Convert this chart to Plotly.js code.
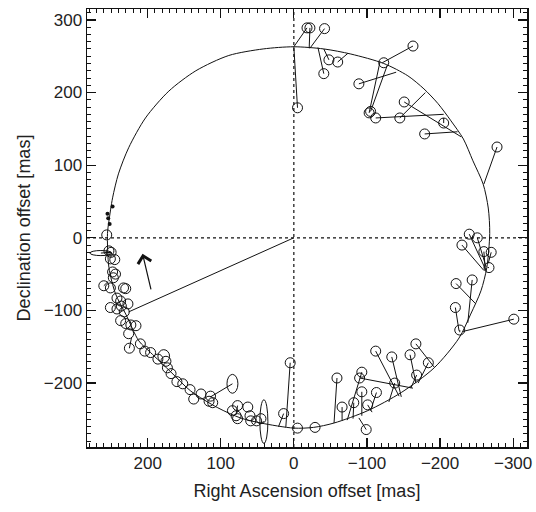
<!DOCTYPE html>
<html>
<head>
<meta charset="utf-8">
<script src="https://cdn.plot.ly/plotly-3.0.1.min.js"></script>
<style>html,body{margin:0;padding:0;background:#fff;}#chart{width:536px;height:512px;}</style>
</head>
<body>
<div id="chart"></div>
<script>
// Model orbit, RA offset / Dec offset in mas
var orbitRA  = [0, -41, -78, -123, -156, -178, -197, -215, -232, -245, -259, -266, -268, -264, -256, -242, -226, -192, -147, -101, -55, -27, 0, 45, 73, 104, 141, 168, 196, 212, 230, 244, 253, 255, 253, 248, 240, 226, 203, 171, 134, 89, 42, 0];
var orbitDec = [263, 260, 253, 240, 223, 205, 185, 161, 136, 106, 74, 41, 6, -41, -73, -105, -138, -179, -213, -238, -255, -261, -262, -255, -248, -234, -211, -185, -158, -142, -105, -77, -41, 6, 23, 55, 88, 124, 165, 202, 230, 251, 260, 263];

// Observed positions
var obsRA  = [-18, -22, -5, -42, -41, -48, -60, -163, -123, -103, -105, -112, -89, -151, -205, -145, -179, -278,
              -240, -251, -230, -260, -270, -267, -222, -244, -221, -227, -301,
              5, 14, -5, -29, -59, -66, -82, -93, -90, -93, -101, -113, -99, -112, -134, -138, -159, -168, -167, -184,
              77, 63, 60, 79, 59, 77, 51, 45, 84, 114, 111, 116, 127, 137, 142, 152, 160, 168, 173, 175, 186, 196, 204, 210,
              225, 226, 216, 223, 230, 237, 232, 227, 236, 242, 251, 237, 242, 230, 233, 251, 260, 247, 244, 248, 245, 251, 256, 253, 250];
var obsDec = [289, 289, 179, 288, 226, 245, 242, 264, 241, 172, 174, 165, 212, 187, 158, 165, 143, 125,
              5, 0, -10, -19, -20, -41, -63, -58, -96, -127, -112,
              -172, -242, -262, -261, -193, -233, -227, -185, -193, -212, -230, -213, -264, -156, -164, -200, -161, -189, -146, -172,
              -231, -233, -245, -245, -252, -249, -252, -249, -238, -218, -227, -225, -215, -222, -209, -201, -198, -187, -179, -170, -167, -158, -156, -146,
              -152, -132, -121, -120, -118, -114, -102, -91, -94, -98, -96, -87, -83, -70, -69, -69, -66, -55, -50, -47, -30, -29, 4, -18, -20];
// Model positions the observations are tied to
var modRA  = [0, -21, 0, -22, -33, -41, -74, -121, -123, -118, -128, -205, -140, -229, -205, -180, -224, -260,
              -263, -263, -260, -262, -266, -265, -249, -238, -226, -227, -231,
              11, 21, -5, -29, -55, -66, -81, -73, -163, -93, -107, -105, -89, -144, -147, -130, -167, -160, -192, -170,
              79, 63, 60, 79, 59, 77, 51, 45, 84, 114, 111, 116, 127, 137, 142, 152, 160, 168, 173, 175, 186, 196, 204, 210,
              222, 226, 216, 223, 230, 237, 232, 227, 236, 242, 251, 237, 242, 230, 233, 251, 254, 247, 244, 248, 245, 251, 256, 253, 258];
var modDec = [263, 261, 263, 261, 262, 260, 254, 241, 241, 243, 238, 170, 228, 139, 165, 200, 146, 74,
              -45, -40, -45, -45, -35, -41, -91, -117, -128, -130, -129,
              -261, -260, -262, -261, -255, -252, -249, -251, -207, -245, -240, -238, -248, -218, -219, -226, -200, -207, -178, -200,
              -243, -233, -245, -245, -252, -249, -252, -249, -238, -218, -227, -225, -215, -222, -209, -201, -198, -187, -179, -170, -167, -158, -156, -146,
              -137, -132, -121, -120, -118, -114, -102, -91, -94, -98, -96, -87, -83, -70, -69, -69, -60, -55, -50, -47, -30, -29, 4, -18, -20];

// Non-circular error ellipses: centre and half-axes (mas)
var ellRA   = [41, 84, 178, 264];
var ellDec  = [-253, -201, -163, -21];
var ellErrRA  = [5.5, 7.5, 8, 15];
var ellErrDec = [30, 13, 9, 3.5];
var ellModRA  = [45, 114, 178, 250];
var ellModDec = [-255, -219, -163, -20];

// Small filled points
var dotRA  = [248, 255, 252, 254];
var dotDec = [43, 33, 19, 27];

// Line from centre to orbit
var nodeRA  = [0, 226];
var nodeDec = [0, -102];

// Direction arrow (tail, head)
var arrowRA  = [195, 207];
var arrowDec = [-73, -22];

var segX = [], segY = [];
for (var i = 0; i < obsRA.length; i++) {
  if (obsRA[i] !== modRA[i] || obsDec[i] !== modDec[i]) {
    segX.push(obsRA[i], modRA[i], null);
    segY.push(obsDec[i], modDec[i], null);
  }
}
for (var j = 0; j < ellRA.length; j++) {
  segX.push(ellRA[j], ellModRA[j], null);
  segY.push(ellDec[j], ellModDec[j], null);
}

var ink = '#111';
var traces = [
  {x: orbitRA, y: orbitDec, mode: 'lines', line: {color: ink, width: 1, shape: 'spline', smoothing: 0.8}, hoverinfo: 'skip'},
  {x: nodeRA, y: nodeDec, mode: 'lines', line: {color: ink, width: 1}, hoverinfo: 'skip'},
  {x: segX, y: segY, mode: 'lines', line: {color: ink, width: 1}, connectgaps: false, hoverinfo: 'skip'},
  {x: obsRA, y: obsDec, mode: 'markers', marker: {symbol: 'circle-open', size: 10, color: ink, line: {width: 1, color: ink}}},
  {x: dotRA, y: dotDec, mode: 'markers', marker: {symbol: 'circle', size: 4, color: ink}}
];

var shapes = [
  {type: 'line', xref: 'paper', yref: 'y', x0: 0, x1: 1, y0: 0, y1: 0, line: {color: ink, width: 1.2, dash: 'dot'}},
  {type: 'line', xref: 'x', yref: 'paper', x0: 0, x1: 0, y0: 0, y1: 1, line: {color: ink, width: 1.2, dash: 'dot'}}
];
for (var k = 0; k < ellRA.length; k++) {
  shapes.push({type: 'circle', xref: 'x', yref: 'y',
    x0: ellRA[k] - ellErrRA[k], x1: ellRA[k] + ellErrRA[k],
    y0: ellDec[k] - ellErrDec[k], y1: ellDec[k] + ellErrDec[k],
    line: {color: ink, width: 1}});
}

var fam = '"Liberation Sans", Arial, Helvetica, sans-serif';
var tickFont = {family: fam, size: 17, color: '#222'};
var titleFont = {family: fam, size: 18, color: '#222'};
var axisCommon = {
  showgrid: false, zeroline: false, showline: true, linecolor: ink, linewidth: 1.5,
  mirror: 'allticks', ticks: 'inside', ticklen: 9, tickwidth: 1.2, tickcolor: ink,
  dtick: 100, tickfont: tickFont,
  minor: {dtick: 10, ticks: 'inside', ticklen: 4, tickwidth: 1, tickcolor: ink, showgrid: false}
};

var layout = {
  width: 536, height: 512,
  margin: {l: 87, r: 9, t: 9, b: 65},
  paper_bgcolor: '#fff', plot_bgcolor: '#fff',
  showlegend: false,
  font: tickFont,
  xaxis: Object.assign({}, axisCommon, {range: [283, -319], tick0: 0,
    title: {text: 'Right Ascension offset [mas]', font: titleFont, standoff: 12}}),
  yaxis: Object.assign({}, axisCommon, {range: [-288, 315], tick0: 0,
    title: {text: 'Declination offset [mas]', font: titleFont, standoff: 8}}),
  shapes: shapes,
  annotations: [{
    x: arrowRA[1], y: arrowDec[1], xref: 'x', yref: 'y',
    ax: arrowRA[0], ay: arrowDec[0], axref: 'x', ayref: 'y',
    showarrow: true, arrowhead: 4, arrowsize: 2.2, arrowwidth: 1.2, arrowcolor: ink, text: ''
  }]
};

Plotly.newPlot('chart', traces, layout, {staticPlot: true, displayModeBar: false});
</script>
</body>
</html>
